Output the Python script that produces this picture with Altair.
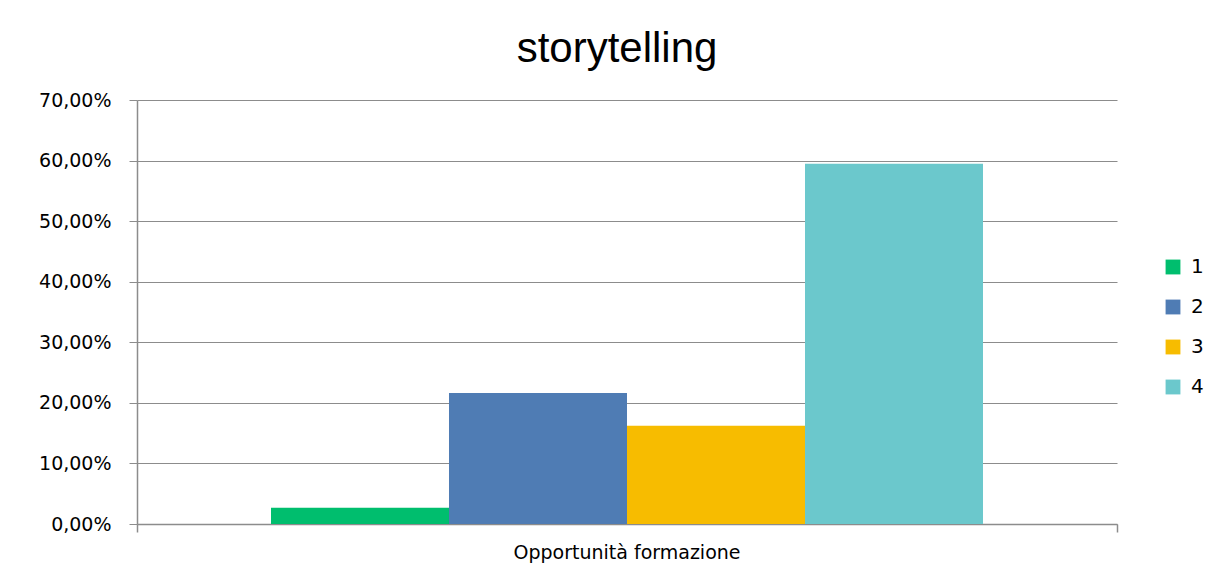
import altair as alt
import pandas as pd

title_text = "storytelling"
category = "Opportunità  formazione"
series = ["1", "2", "3", "4"]
values = [0.0270, 0.2162, 0.1622, 0.5946]
colors = ["#00BE6E", "#4F7CB4", "#F7BC00", "#6BC8CC"]
y_ticks = [0, 0.1, 0.2, 0.3, 0.4, 0.5, 0.6, 0.7]
edge_ticks = [0, 1]

df = pd.DataFrame({"cat": [category] * len(series), "serie": series, "val": values})
edges = pd.DataFrame({"e": edge_ticks})

GRID = "#8C8C8C"
FONT = "DejaVu Sans"

bars = alt.Chart(df).mark_bar(strokeWidth=0).encode(
    x=alt.X("cat:N", scale=alt.Scale(paddingOuter=0.1882, paddingInner=0),
            axis=alt.Axis(title=None, ticks=False, grid=False, labelAngle=0, labelFont=FONT,
                          labelFontSize=19, labelColor="#000000", labelPadding=19,
                          labelLimit=0, domainColor=GRID, domainWidth=1.5)),
    xOffset=alt.XOffset("serie:N", sort=series, scale=alt.Scale(paddingInner=0, paddingOuter=0)),
    y=alt.Y("val:Q", scale=alt.Scale(domain=[0, 0.7], nice=False),
            axis=alt.Axis(values=y_ticks, title=None, tickSize=8, tickColor=GRID, grid=True,
                          domainColor=GRID, domainWidth=1.5, gridColor=GRID, gridWidth=1.2,
                          labelExpr="replace(format(datum.value, '.2%'), '.', ',')",
                          labelFont=FONT, labelFontSize=19, labelColor="#000000",
                          labelPadding=18)),
    color=alt.Color("serie:N", sort=series, scale=alt.Scale(domain=series, range=colors),
                    legend=alt.Legend(title=None, orient="none", legendX=1026, legendY=157,
                                      symbolType="square", symbolSize=220, symbolStrokeWidth=0,
                                      labelFont=FONT, labelFontSize=20, labelColor="#000000",
                                      rowPadding=20, labelOffset=8)),
)

ticks = alt.Chart(edges).mark_point(opacity=0).encode(
    x=alt.X("e:Q", scale=alt.Scale(domain=[0, 1], nice=False),
            axis=alt.Axis(values=edge_ticks, labels=False, tickSize=8, tickColor=GRID,
                          tickWidth=1.5, domain=False, grid=False, title=None, orient="bottom")),
)

chart = alt.layer(bars, ticks).resolve_scale(x="independent").properties(
    width=980, height=424,
    title=alt.TitleParams(title_text, font="Liberation Sans", fontSize=42, fontWeight="normal",
                          color="#000000", anchor="middle", dx=-10, offset=20),
    autosize=alt.AutoSizeParams(type="none"),
    padding={"left": 129, "top": 92, "right": 90, "bottom": 44},
).configure_view(stroke=None)

chart.save("out.html", embed_options={"renderer": "svg", "actions": False})
